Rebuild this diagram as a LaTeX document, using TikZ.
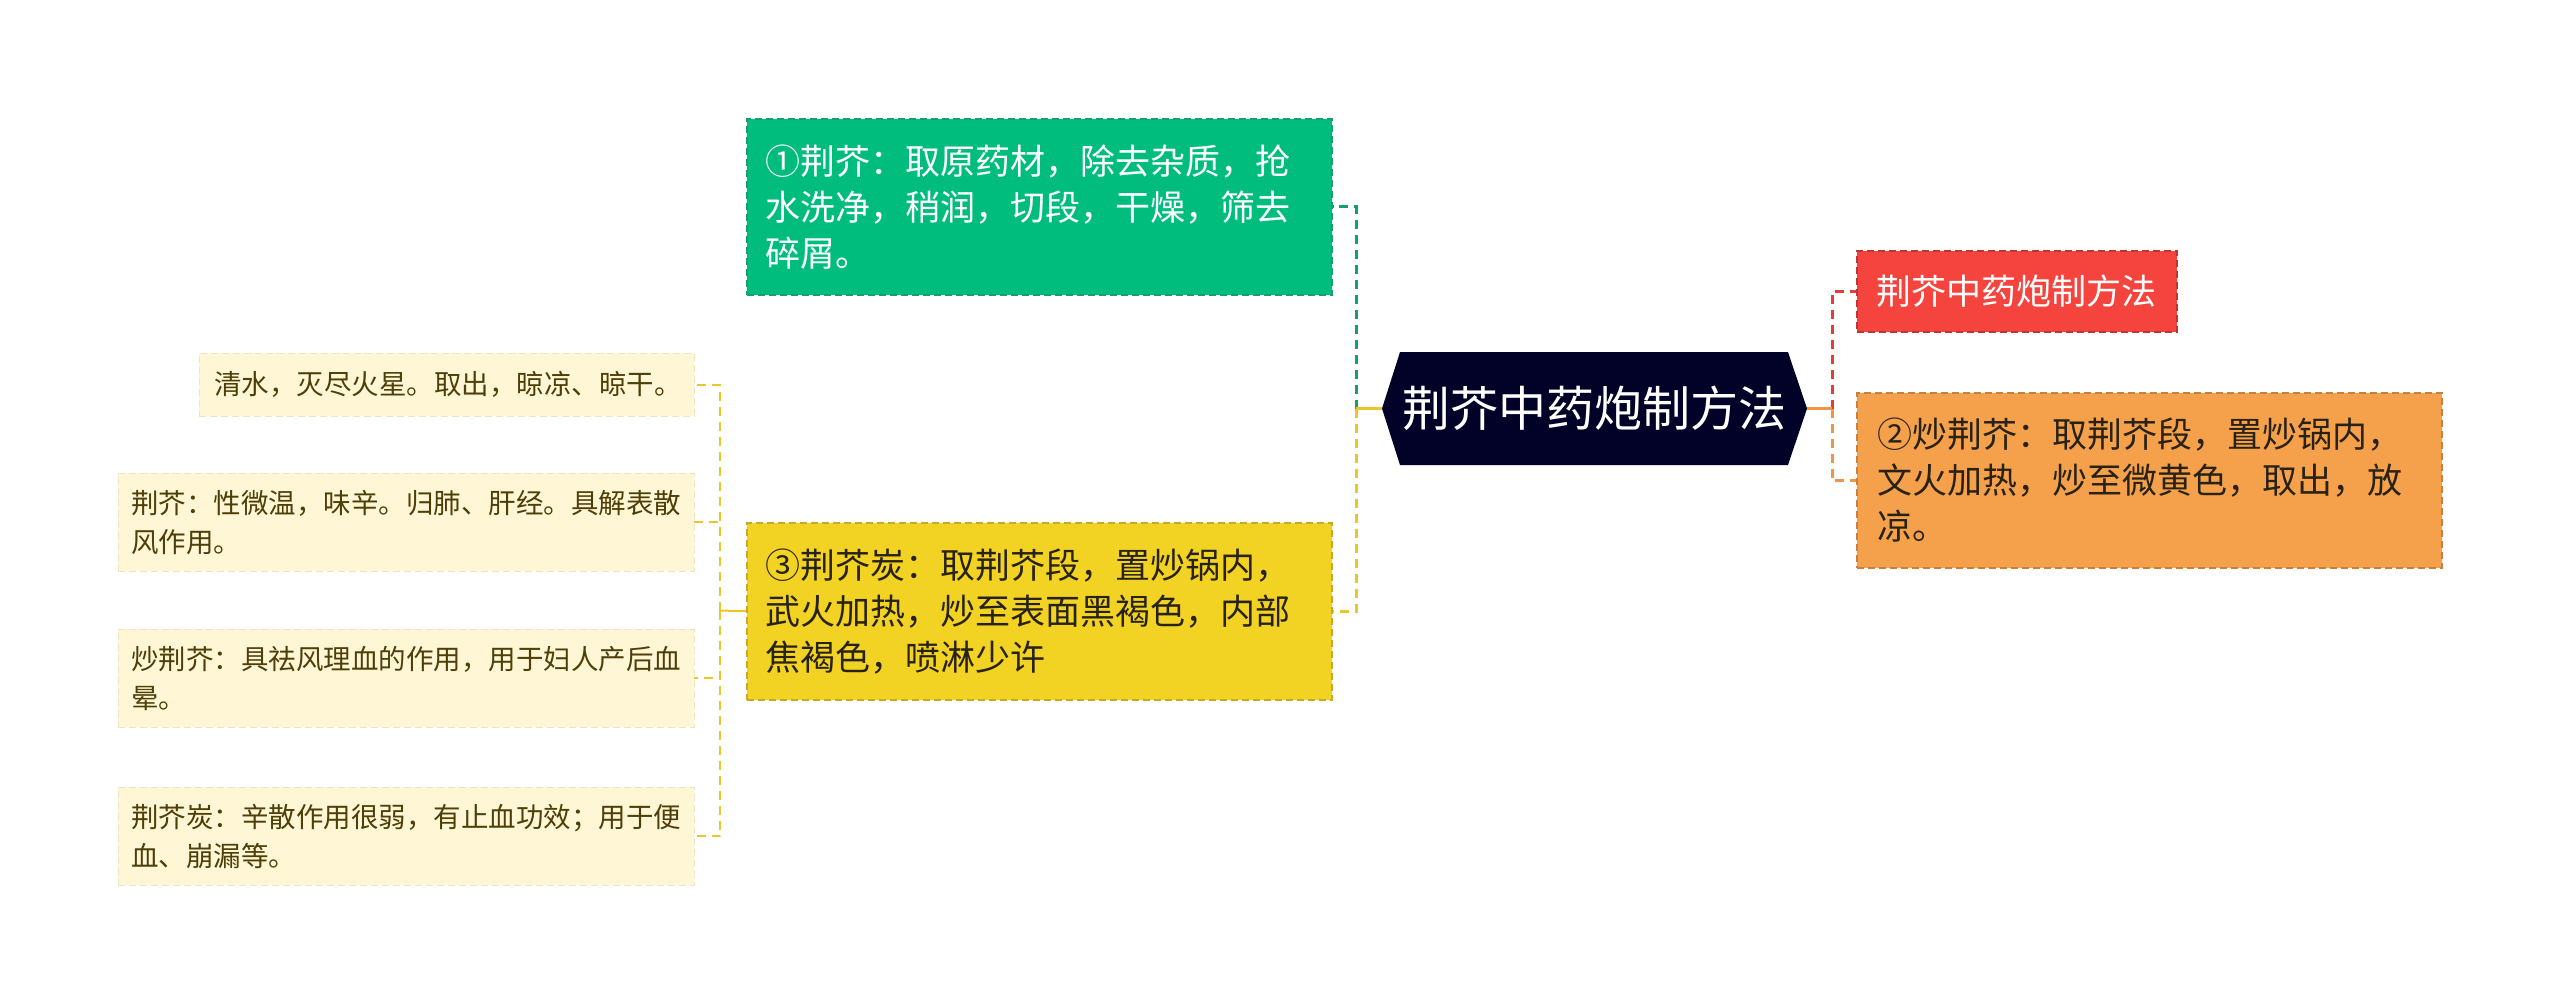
\documentclass[tikz,border=0pt]{standalone}
\usepackage{fontspec}
\setmainfont{Noto Sans CJK SC}
\usetikzlibrary{positioning,calc}

\definecolor{gfill}{RGB}{0,189,125}
\definecolor{gline}{RGB}{18,160,110}
\definecolor{yfill}{RGB}{242,211,36}
\definecolor{yline}{RGB}{236,198,40}
\definecolor{rfill}{RGB}{245,68,62}
\definecolor{rline}{RGB}{226,62,58}
\definecolor{ofill}{RGB}{245,161,76}
\definecolor{oline}{RGB}{238,150,70}
\definecolor{rootfill}{RGB}{2,2,40}
\definecolor{leaffill}{RGB}{254,246,212}
\definecolor{leaftext}{RGB}{78,62,8}
\definecolor{darktext}{RGB}{40,34,20}

\begin{document}
\begin{tikzpicture}[x=1pt, y=-1pt,
    topic/.style={anchor=north west, inner xsep=19pt, inner ysep=0pt, align=left,
        font=\fontsize{35}{46}\selectfont, dash pattern=on 7pt off 4pt, line width=1.5pt},
    leafbox/.style={anchor=north west, fill=leaffill, draw=leaffill!93!black,
        dash pattern=on 7pt off 4pt, inner xsep=13pt, inner ysep=0pt, align=left, text=leaftext,
        font=\fontsize{27.5}{39}\selectfont},
    link/.style={line width=3pt, dash pattern=on 9pt off 6pt},
    thinlink/.style={line width=2pt, dash pattern=on 9pt off 6pt}]

    \useasboundingbox (0,0) rectangle (2560,1005);

    % root
    \coordinate (root-l) at (1382,408.5);
    \coordinate (root-r) at (1807,408.5);
    \fill [rootfill] (1400,352) -- (1788,352) -- (root-r) -- (1788,465) -- (1400,465) -- (root-l) -- cycle;
    \node (root) at (1594,408.5) [minimum width=388, minimum height=113, inner sep=0pt,
        text=white, font=\fontsize{48}{52}\selectfont] {荆芥中药炮制方法};

    % left topics
    \node (gbox) [topic, fill=gfill, draw=gline, text=white, text width=547, minimum height=176]
        at (746,118) {①荆芥：取原药材，除去杂质，抢\\水洗净，稍润，切段，干燥，筛去\\碎屑。};
    \node (ybox) [topic, fill=yfill, draw=yline!85!black, text=darktext, text width=547, minimum height=177]
        at (746,522) {③荆芥炭：取荆芥段，置炒锅内，\\武火加热，炒至表面黑褐色，内部\\焦褐色，喷淋少许};

    % right topics
    \node (rbox) [topic, fill=rfill, draw=rline!85!black, text=white, inner xsep=20pt, minimum height=81]
        at (1856,250) {荆芥中药炮制方法};
    \node (obox) [topic, fill=ofill, draw=oline!85!black, text=darktext, inner xsep=21pt, text width=543, minimum height=175]
        at (1856,392) {②炒荆芥：取荆芥段，置炒锅内，\\文火加热，炒至微黄色，取出，放\\凉。};

    % leaves
    \node (l1) [leafbox, inner xsep=15pt, text width=465, minimum height=63] at (199,353)
        {清水，灭尽火星。取出，晾凉、晾干。};
    \node (l2) [leafbox, text width=550, minimum height=98] at (118,473)
        {荆芥：性微温，味辛。归肺、肝经。具解表散\\风作用。};
    \node (l3) [leafbox, text width=550, minimum height=98] at (118,629)
        {炒荆芥：具祛风理血的作用，用于妇人产后血\\晕。};
    \node (l4) [leafbox, text width=550, minimum height=98] at (118,787)
        {荆芥炭：辛散作用很弱，有止血功效；用于便\\血、崩漏等。};

    % connectors
    \coordinate (jl) at (1356,408.5);
    \coordinate (jr) at (1832,408.5);
    \coordinate (jleaf) at (720,610.5);

    \draw [link, gline] (jl) |- (gbox.east);
    \draw [link, yline] (jl) |- (ybox.east);
    \draw [yline, line width=3pt] (jl) -- (root-l);

    \draw [link, rline] (jr) |- (rbox.west);
    \draw [link, oline] (jr) |- (obox.west);
    \draw [oline, line width=3pt] (root-r) -- (jr);

    \draw [yline, line width=2pt] (ybox.west) -- (jleaf);
    \foreach \n in {l1,l2,l3,l4}
        \draw [thinlink, yline] (jleaf) |- (\n.east);

\end{tikzpicture}
\end{document}
